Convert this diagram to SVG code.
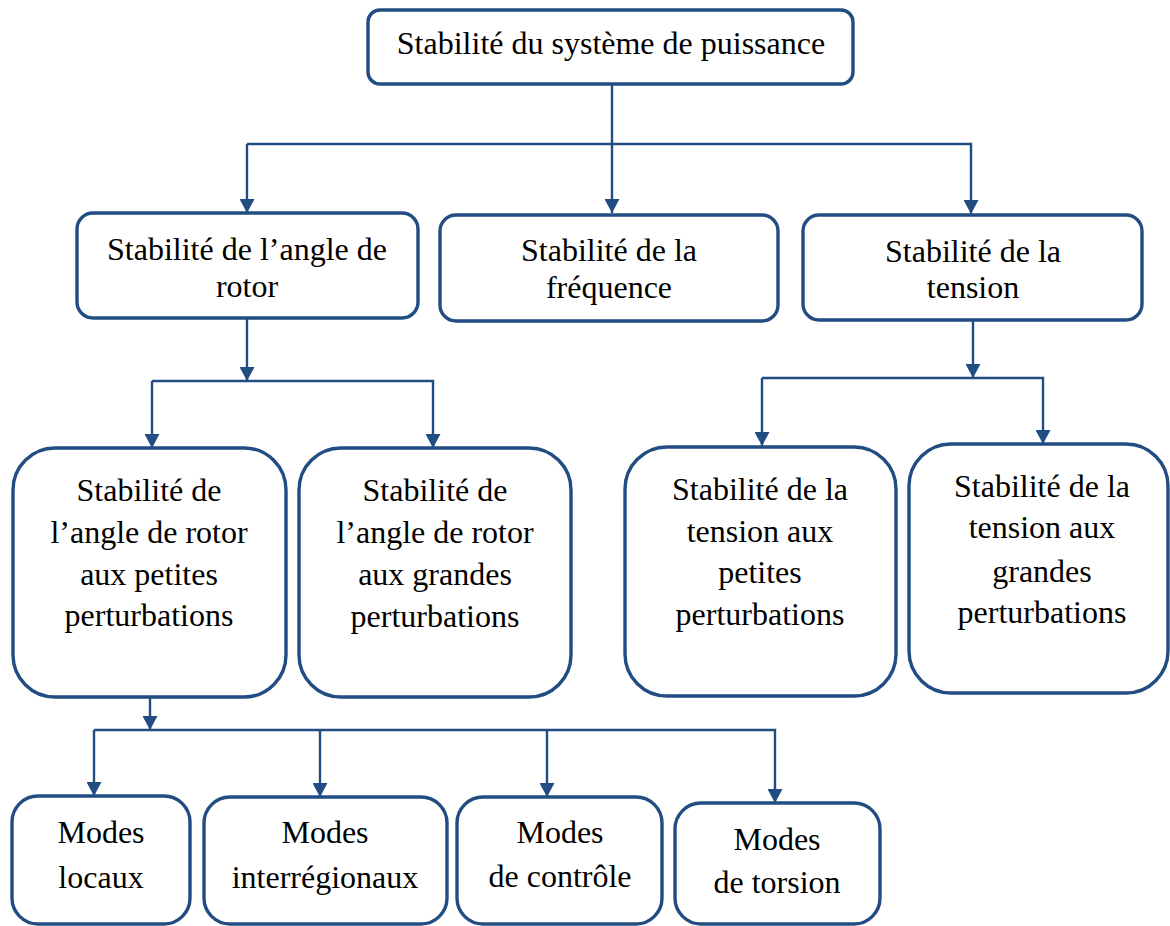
<svg xmlns="http://www.w3.org/2000/svg" width="1170" height="926" viewBox="0 0 1170 926">
<style>
.box{fill:#ffffff;stroke:#224d83;stroke-width:3.4}
.ln{fill:none;stroke:#224d83;stroke-width:2.4}
.t{font-family:"Liberation Serif","Times New Roman",serif;font-size:32px;fill:#000;text-anchor:middle}
</style>
<defs>
<marker id="ah" viewBox="0 0 14 15" refX="14" refY="7.5" markerWidth="14" markerHeight="15" markerUnits="userSpaceOnUse" orient="auto">
<path d="M0,0 L14,7.5 L0,15 z" fill="#224d83"/>
</marker>
</defs>
<rect width="1170" height="926" fill="#ffffff"/>
<g id="connectors">
<line class="ln" x1="612" y1="84" x2="612" y2="213" marker-end="url(#ah)"/>
<polyline class="ln" points="247,144 971,144 971,214" marker-end="url(#ah)"/>
<line class="ln" x1="247" y1="144" x2="247" y2="213" marker-end="url(#ah)"/>
<line class="ln" x1="247" y1="318" x2="247" y2="381" marker-end="url(#ah)"/>
<polyline class="ln" points="152,381 433,381 433,448" marker-end="url(#ah)"/>
<line class="ln" x1="152" y1="381" x2="152" y2="448" marker-end="url(#ah)"/>
<line class="ln" x1="973" y1="320" x2="973" y2="378" marker-end="url(#ah)"/>
<polyline class="ln" points="762,378 1043,378 1043,444" marker-end="url(#ah)"/>
<line class="ln" x1="762" y1="378" x2="762" y2="446" marker-end="url(#ah)"/>
<line class="ln" x1="150" y1="697" x2="150" y2="730" marker-end="url(#ah)"/>
<polyline class="ln" points="94,730 775,730 775,803" marker-end="url(#ah)"/>
<line class="ln" x1="94" y1="730" x2="94" y2="796" marker-end="url(#ah)"/>
<line class="ln" x1="320" y1="730" x2="320" y2="797" marker-end="url(#ah)"/>
<line class="ln" x1="547" y1="730" x2="547" y2="797" marker-end="url(#ah)"/>
</g>
<g id="n-root">
<rect class="box" x="368" y="10" width="485" height="74" rx="12"/>
<text class="t" x="611" y="54">Stabilité du système de puissance</text>
</g>
<g id="n-angle">
<rect class="box" x="77" y="213" width="341" height="105" rx="16"/>
<text class="t" x="247" y="260">Stabilité de l’angle de</text>
<text class="t" x="247" y="297">rotor</text>
</g>
<g id="n-freq">
<rect class="box" x="440" y="215" width="338" height="106" rx="16"/>
<text class="t" x="609" y="261">Stabilité de la</text>
<text class="t" x="609" y="298">fréquence</text>
</g>
<g id="n-tension">
<rect class="box" x="803" y="215" width="339" height="105" rx="16"/>
<text class="t" x="973" y="262">Stabilité de la</text>
<text class="t" x="973" y="298">tension</text>
</g>
<g id="n-angle-petites">
<rect class="box" x="13" y="448" width="273" height="249" rx="42"/>
<text class="t" x="149" y="501">Stabilité de</text>
<text class="t" x="149" y="543">l’angle de rotor</text>
<text class="t" x="149" y="585">aux petites</text>
<text class="t" x="149" y="626">perturbations</text>
</g>
<g id="n-angle-grandes">
<rect class="box" x="299" y="448" width="272" height="249" rx="42"/>
<text class="t" x="435" y="501">Stabilité de</text>
<text class="t" x="435" y="543">l’angle de rotor</text>
<text class="t" x="435" y="585">aux grandes</text>
<text class="t" x="435" y="627">perturbations</text>
</g>
<g id="n-tension-petites">
<rect class="box" x="625" y="447" width="271" height="249" rx="42"/>
<text class="t" x="760" y="500">Stabilité de la</text>
<text class="t" x="760" y="542">tension aux</text>
<text class="t" x="760" y="583">petites</text>
<text class="t" x="760" y="625">perturbations</text>
</g>
<g id="n-tension-grandes">
<rect class="box" x="909" y="444" width="259" height="249" rx="42"/>
<text class="t" x="1042" y="497">Stabilité de la</text>
<text class="t" x="1042" y="538">tension aux</text>
<text class="t" x="1042" y="582">grandes</text>
<text class="t" x="1042" y="623">perturbations</text>
</g>
<g id="n-locaux">
<rect class="box" x="12" y="796" width="178" height="128" rx="26"/>
<text class="t" x="101" y="843">Modes</text>
<text class="t" x="101" y="888">locaux</text>
</g>
<g id="n-interregionaux">
<rect class="box" x="204" y="797" width="243" height="127" rx="26"/>
<text class="t" x="325" y="843">Modes</text>
<text class="t" x="325" y="888">interrégionaux</text>
</g>
<g id="n-controle">
<rect class="box" x="457" y="797" width="205" height="127" rx="26"/>
<text class="t" x="560" y="843">Modes</text>
<text class="t" x="560" y="887">de contrôle</text>
</g>
<g id="n-torsion">
<rect class="box" x="675" y="803" width="205" height="121" rx="26"/>
<text class="t" x="777" y="850">Modes</text>
<text class="t" x="777" y="893">de torsion</text>
</g>
</svg>
